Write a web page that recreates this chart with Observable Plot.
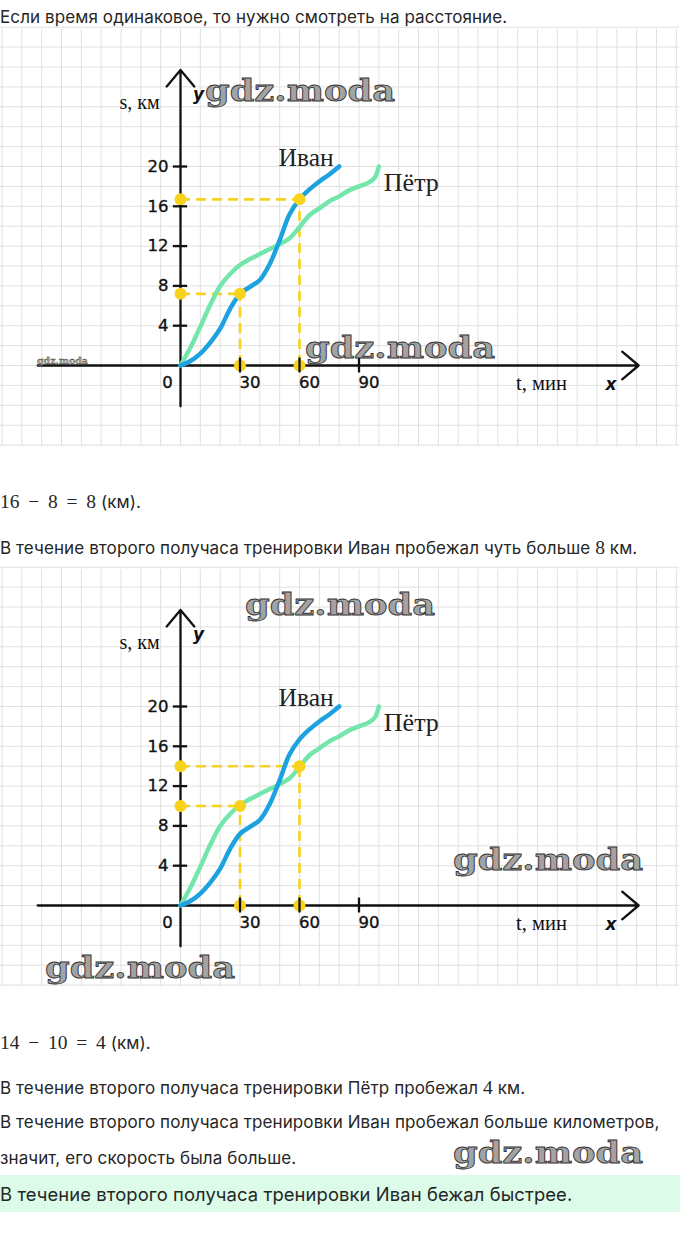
<!DOCTYPE html>
<html>
<head>
<meta charset="utf-8">
<script src="https://cdn.jsdelivr.net/npm/d3@7"></script>
<script src="https://cdn.jsdelivr.net/npm/@observablehq/plot@0.6"></script>
<style>
  html, body { margin: 0; padding: 0; background: #fff; }
  body { position: relative; width: 680px; height: 1247px; overflow: hidden; font-family: Inter, Roboto, sans-serif; color: #262626; }
  .line { position: absolute; left: 0; font-size: 17px; line-height: 20px; white-space: nowrap; letter-spacing: 0.1px; }
  .math { font-family: "Liberation Serif", serif; font-size: 19.5px; letter-spacing: 0; }
  .eq { word-spacing: 3.9px; }
  .box { position: absolute; left: 0; width: 680px; background: #dcfbe8; }
  .chart { position: absolute; left: 0; }
  #wm { position: absolute; left: 0; top: 0; pointer-events: none; }
</style>
</head>
<body>
<div class="line" style="top:7px">Если время одинаковое, то нужно смотреть на расстояние.</div>
<div class="chart" id="c1" style="top:29px"></div>
<div class="line" style="top:492px"><span class="math eq">16 − 8 = 8</span> (км).</div>
<div class="line" style="top:538px">В течение второго получаса тренировки Иван пробежал чуть больше <span class="math">8</span> км.</div>
<div class="chart" id="c2" style="top:569px"></div>
<div class="line" style="top:1033px"><span class="math eq">14 − 10 = 4</span> (км).</div>
<div class="line" style="top:1078px">В течение второго получаса тренировки Пётр пробежал <span class="math">4</span> км.</div>
<div class="line" style="top:1112px">В течение второго получаса тренировки Иван пробежал больше километров,</div>
<div class="line" style="top:1148px">значит, его скорость была больше.</div>
<div class="box" style="top:1175px;height:37px"></div>
<div class="line" style="top:1184px;font-size:18.4px">В течение второго получаса тренировки Иван бежал быстрее.</div>
<svg id="wm" width="680" height="1247"></svg>
<script>
// ---- data ----
const ivanT = [0, 5, 10, 15, 20, 25, 30, 35, 40, 45, 50, 55, 60, 65, 70, 75, 80];
const ivanS = [0, 0.45, 1.2, 2.3, 3.7, 5.7, 7.2, 7.9, 8.6, 10.2, 12.6, 15.2, 16.7, 17.7, 18.5, 19.2, 20];
const petrT = [0, 5, 10, 15, 20, 25, 30, 35, 40, 45, 50, 55, 60, 65, 70, 75, 80, 85, 90, 95, 98, 100];
const petrS = [0, 1.8, 3.9, 6.1, 8.0, 9.2, 10.1, 10.7, 11.2, 11.7, 12.2, 12.8, 13.9, 15.1, 15.8, 16.5, 17.0, 17.6, 18.0, 18.4, 18.9, 20];
const xTicks = [30, 60, 90];
const yTicks = [4, 8, 12, 16, 20];
const guides1 = [{t: 30, s: 7.2}, {t: 60, s: 16.7}];
const guides2 = [{t: 30, s: 10}, {t: 60, s: 14}];
const gridT = d3.range(-90, 260, 10);
const gridS = d3.range(-8, 36, 2);
const axesLines = [{x1: -72, y1: 0, x2: 231, y2: 0}, {x1: 0, y1: -4.1, x2: 0, y2: 29.7}];

const ivan = ivanT.map((t, i) => ({t, s: ivanS[i]}));
const petr = petrT.map((t, i) => ({t, s: petrS[i]}));

const BLUE = "#1da2e0", GREEN = "#74e6ab", YELLOW = "#f8d31e", INK = "#111";
const tickFont = {fontFamily: "DejaVu Sans", fontSize: 16.5, fill: INK, stroke: INK, strokeWidth: 0.35};

function chart(guides) {
  const pts = guides.flatMap(g => [{t: 0, s: g.s}, {t: g.t, s: g.s}, {t: g.t, s: 0}]);
  return Plot.plot({
    width: 680, height: 418,
    x: {domain: [0, 90], range: [180, 358.5]},
    y: {domain: [0, 20], range: [336, 137]},
    axis: null,
    style: {background: "#fff", overflow: "visible"},
    marks: [
      Plot.ruleX(gridT, {x: d => d, stroke: "#e0e0e0", strokeWidth: 1}),
      Plot.ruleY(gridS, {y: d => d, stroke: "#e0e0e0", strokeWidth: 1}),
      Plot.arrow(axesLines, {x1: "x1", y1: "y1", x2: "x2", y2: "y2", stroke: INK, strokeWidth: 2.3, headLength: 14, headAngle: 80}),
      Plot.ruleY(guides, {y: "s", x1: 0, x2: "t", stroke: YELLOW, strokeWidth: 2.6, strokeDasharray: "10,6"}),
      Plot.ruleX(guides, {x: "t", y1: 0, y2: "s", stroke: YELLOW, strokeWidth: 2.6, strokeDasharray: "10,6"}),
      Plot.line(petr, {x: "t", y: "s", stroke: GREEN, strokeWidth: 4.5, curve: "catmull-rom"}),
      Plot.line(ivan, {x: "t", y: "s", stroke: BLUE, strokeWidth: 4.5, curve: "catmull-rom"}),
      Plot.dot(pts, {x: "t", y: "s", r: 6, fill: YELLOW}),
      Plot.ruleY(yTicks, {y: d => d, x1: -3.6, x2: 3.6, stroke: INK, strokeWidth: 2.3}),
      Plot.ruleX(xTicks, {x: d => d, y1: -0.75, y2: 0.75, stroke: INK, strokeWidth: 2.3}),
      Plot.text(yTicks, {x: 0, y: d => d, text: d => String(d), dx: -12, textAnchor: "end", ...tickFont}),
      Plot.text(xTicks, {x: d => d, y: 0, text: d => String(d), dx: 10, dy: 17, ...tickFont}),
      Plot.text([0], {x: 0, y: 0, text: d => String(d), dx: -13, dy: 17, ...tickFont}),
      Plot.text(["s, км"], {x: 0, y: 26.4, text: d => d, dx: -41, fontFamily: "Liberation Serif", fontSize: 20, fill: INK}),
      Plot.text(["y"], {x: 0, y: 27.2, text: d => d, dx: 18, fontFamily: "DejaVu Sans", fontStyle: "italic", fontWeight: "bold", fontSize: 17, fill: INK}),
      Plot.text(["t, мин"], {x: 182, y: 0, text: d => d, dy: 18, fontFamily: "Liberation Serif", fontSize: 20.5, fill: INK}),
      Plot.text(["x"], {x: 217, y: 0, text: d => d, dy: 19, fontFamily: "DejaVu Sans", fontStyle: "italic", fontWeight: "bold", fontSize: 17, fill: INK}),
      Plot.text([ivan[ivan.length - 1]], {x: "t", y: "s", text: () => "Иван", dx: -33, dy: -9, fontFamily: "Liberation Serif", fontSize: 25.5, fill: "#222"}),
      Plot.text([petr[petr.length - 1]], {x: "t", y: "s", text: () => "Пётр", dx: 5, dy: 16, textAnchor: "start", fontFamily: "Liberation Serif", fontSize: 26, fill: "#222"})
    ]
  });
}

document.getElementById("c1").append(chart(guides1));
document.getElementById("c2").append(chart(guides2));

// ---- watermarks ----
const marks = [
  {x: 205, y: 101, w: 190, f: 30},
  {x: 305, y: 358, w: 190, f: 30},
  {x: 37, y: 364, w: 51, f: 9},
  {x: 245, y: 615, w: 190, f: 30},
  {x: 453, y: 870, w: 190, f: 30},
  {x: 45, y: 978, w: 190, f: 30},
  {x: 453, y: 1163, w: 190, f: 30}
];
const wm = d3.select("#wm");
wm.selectAll("text").data(marks).join("text")
  .attr("x", d => d.x).attr("y", d => d.y)
  .attr("textLength", d => d.w).attr("lengthAdjust", "spacingAndGlyphs")
  .attr("font-family", "DejaVu Serif").attr("font-weight", "bold")
  .attr("font-size", d => d.f)
  .attr("fill", "#a3a3a3").attr("stroke", "#333").attr("stroke-width", d => d.f > 20 ? 0.8 : 0.3)
  .text("gdz.moda");
</script>
</body>
</html>
